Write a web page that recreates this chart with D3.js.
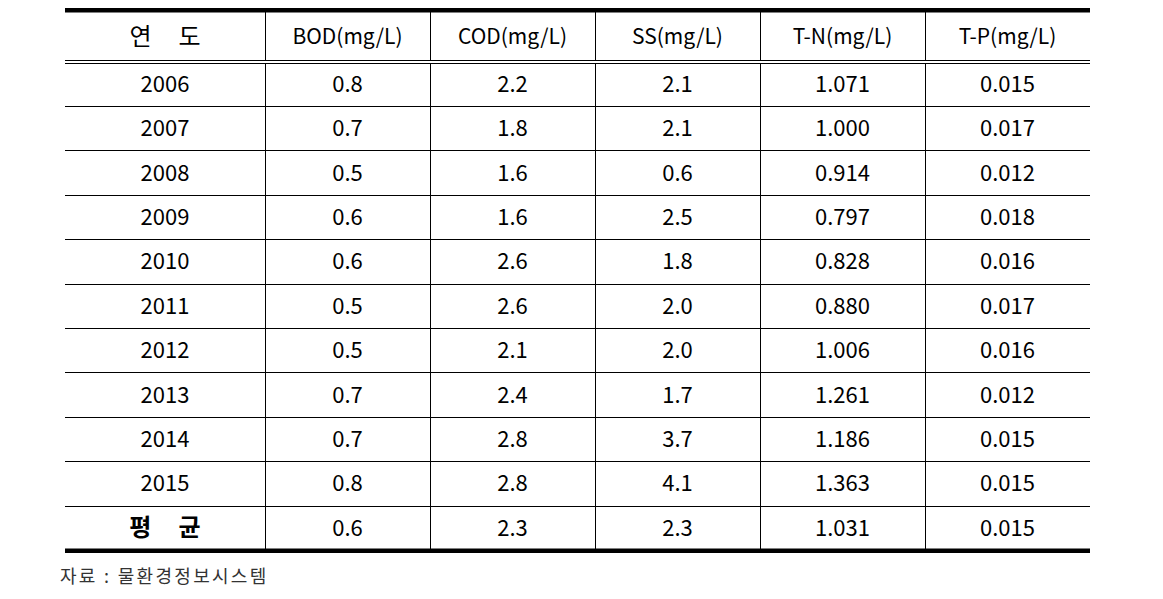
<!DOCTYPE html>
<html><head><meta charset="utf-8">
<script src="https://cdn.jsdelivr.net/npm/d3@7"></script>
<style>
html,body{margin:0;padding:0;background:#fff;}
svg{display:block;}
text{font-family:"Noto Sans CJK KR","Noto Sans",sans-serif;}
</style></head>
<body>
<svg id="c" width="1163" height="599"></svg>
<script>
const headers = ["연     도","BOD(mg/L)","COD(mg/L)","SS(mg/L)","T-N(mg/L)","T-P(mg/L)"];
const years = ["2006","2007","2008","2009","2010","2011","2012","2013","2014","2015","평     균"];
const bod = ["0.8","0.7","0.5","0.6","0.6","0.5","0.5","0.7","0.7","0.8","0.6"];
const cod = ["2.2","1.8","1.6","1.6","2.6","2.6","2.1","2.4","2.8","2.8","2.3"];
const ss  = ["2.1","2.1","0.6","2.5","1.8","2.0","2.0","1.7","3.7","4.1","2.3"];
const tn  = ["1.071","1.000","0.914","0.797","0.828","0.880","1.006","1.261","1.186","1.363","1.031"];
const tp  = ["0.015","0.017","0.012","0.018","0.016","0.017","0.016","0.012","0.015","0.015","0.015"];
const source = "자료 : 물환경정보시스템";

const svg = d3.select("#c");
const tLeft = 65, tRight = 1090, firstW = 200;
const tTop = 10.5, headerBottom = 61.5, tBottom = 550;
const colX = d3.scaleBand().domain(d3.range(5)).range([tLeft+firstW, tRight]);
const rowY = d3.scaleBand().domain(d3.range(years.length)).range([headerBottom, tBottom]);
const colLeft = i => i===0 ? tLeft : colX(i-1);
const colWidth = i => i===0 ? firstW : colX.bandwidth();
const cols = [years,bod,cod,ss,tn,tp];

// vertical lines
const vx = [tLeft+firstW].concat(d3.range(1,5).map(i=>colX(i)));
svg.selectAll("line.v").data(vx).join("line").attr("class","v")
  .attr("x1",d=>Math.round(d)+0.5).attr("x2",d=>Math.round(d)+0.5)
  .attr("y1",tTop).attr("y2",tBottom).attr("stroke","#000").attr("stroke-width",1);
// horizontal row lines
svg.selectAll("line.h").data(d3.range(1,years.length)).join("line").attr("class","h")
  .attr("x1",tLeft).attr("x2",tRight)
  .attr("y1",d=>Math.round(rowY(d))+0.5).attr("y2",d=>Math.round(rowY(d))+0.5)
  .attr("stroke","#000").attr("stroke-width",1);
// white gap then header double line
svg.append("rect").attr("x",tLeft).attr("y",61).attr("width",tRight-tLeft).attr("height",2).attr("fill","#fff");
[60.5,63.5].forEach(y=>svg.append("line").attr("x1",tLeft).attr("x2",tRight).attr("y1",y).attr("y2",y).attr("stroke","#000").attr("stroke-width",1));
// thick top and bottom
svg.append("rect").attr("x",tLeft).attr("y",8).attr("width",tRight-tLeft).attr("height",4.5).attr("fill","#000");
svg.append("rect").attr("x",tLeft).attr("y",548.5).attr("width",tRight-tLeft).attr("height",4.5).attr("fill","#000");

// header texts
svg.selectAll("text.hd").data(headers).join("text").attr("class","hd")
  .attr("x",(d,i)=>colLeft(i)+colWidth(i)/2).attr("y",(tTop+headerBottom)/2-1.5)
  .attr("text-anchor","middle").attr("dominant-baseline","central")
  .attr("font-size",(d,i)=>i===0?24:21).attr("fill","#000")
  .style("white-space","pre")
  .text(d=>d);

// body cells
cols.forEach((arr,ci)=>{
  svg.selectAll("text.c"+ci).data(arr).join("text").attr("class","c"+ci)
    .attr("x",colLeft(ci)+colWidth(ci)/2)
    .attr("y",(d,ri)=>rowY(ri)+rowY.bandwidth()/2-2)
    .attr("text-anchor","middle").attr("dominant-baseline","central")
    .attr("font-size",(d,ri)=>(ci===0&&ri===years.length-1)?24:22).attr("fill","#000")
    .attr("font-weight",(d,ri)=>(ci===0&&ri===years.length-1)?700:400)
    .style("white-space","pre")
    .text(d=>d);
});

svg.append("text").attr("x",60).attr("y",583).attr("font-size",18).attr("fill","#333")
  .attr("letter-spacing",2.3)
  .style("white-space","pre").text(source);
</script>
</body></html>
